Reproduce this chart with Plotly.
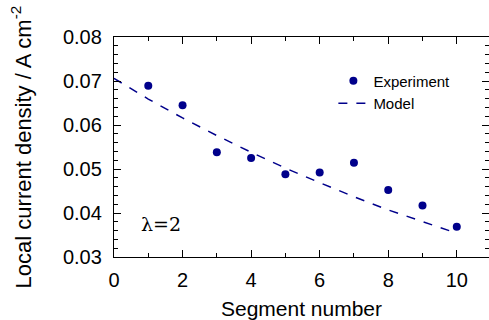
import plotly.graph_objects as go

seg_exp = [1, 2, 3, 4, 5, 6, 7, 8, 9, 10]
cur_exp = [0.0689, 0.0645, 0.0538, 0.0525, 0.0488, 0.0492, 0.0514, 0.0452, 0.0417, 0.0369]

seg_model = [0, 1, 2, 3, 4, 5, 6, 7, 8, 9, 9.85]
cur_model = [0.0706, 0.0659, 0.0616, 0.0576, 0.0538, 0.0502, 0.0469, 0.0437, 0.0407, 0.0380, 0.0358]

navy = "#00008B"
font = "Liberation Sans, Arial, sans-serif"

fig = go.Figure()
fig.add_trace(go.Scatter(x=seg_exp, y=cur_exp, mode="markers", name="Experiment",
                         marker=dict(color=navy, size=8)))
fig.add_trace(go.Scatter(x=seg_model, y=cur_model, mode="lines", name="Model",
                         line=dict(color=navy, width=1.5, dash="dash")))

fig.add_annotation(x=0.72, y=0.0374, xref="x", yref="y", text="λ=2", showarrow=False,
                   xanchor="left", yanchor="middle",
                   font=dict(family="DejaVu Serif", size=19, color="black"))

fig.add_annotation(x=-0.247, y=0.5, xref="paper", yref="paper",
                   text="Local current density / A cm<sup>-2</sup>", showarrow=False, textangle=-90,
                   xanchor="center", yanchor="middle",
                   font=dict(family=font, size=22, color="black"))

axis_common = dict(showgrid=False, zeroline=False, showline=True, linecolor="black", linewidth=1.3,
                   mirror="ticks", ticks="inside", tickcolor="black", tickwidth=1.2, ticklen=7,
                   tickfont=dict(family=font, size=20, color="black"))

fig.update_xaxes(range=[0, 10.94], dtick=2, tick0=0, ticklabelstandoff=5,
                 minor=dict(dtick=1, ticks="inside", ticklen=4, tickcolor="black", tickwidth=1),
                 title=dict(text="Segment number", font=dict(family=font, size=21, color="black"), standoff=13),
                 **axis_common)
fig.update_yaxes(range=[0.03, 0.08], dtick=0.01, tick0=0.03, tickformat=".2f", ticklabelstandoff=7,
                 minor=dict(dtick=0.002, ticks="inside", ticklen=4, tickcolor="black", tickwidth=1),
                 **axis_common)

fig.update_layout(width=489, height=320, margin=dict(l=114, r=0, t=37, b=63),
                  plot_bgcolor="white", paper_bgcolor="white",
                  legend=dict(x=0.585, y=0.875, xanchor="left", yanchor="top",
                              font=dict(family=font, size=15, color="black"),
                              bgcolor="rgba(0,0,0,0)", tracegroupgap=0, itemwidth=30),
                  showlegend=True)

fig.write_html("out.html")
